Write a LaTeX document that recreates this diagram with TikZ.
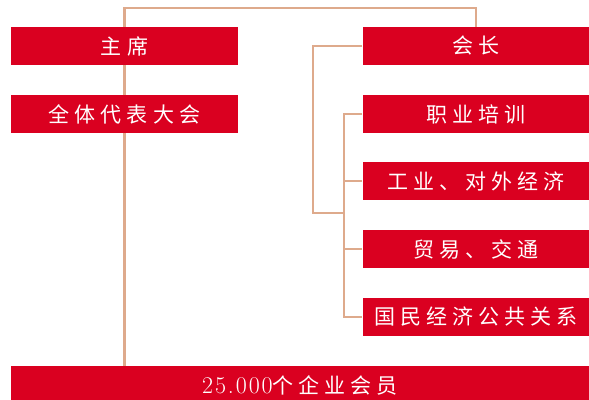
\documentclass[tikz,border=0pt]{standalone}
\usepackage{fontspec}
\newfontfamily\cjk{Noto Sans CJK SC}[LetterSpace=24]
\newfontfamily\digits{Latin Modern Roman}[LetterSpace=8]
\usetikzlibrary{positioning, backgrounds}
\definecolor{boxRed}{RGB}{218,0,32}
\definecolor{lineTan}{RGB}{222,170,140}
\tikzstyle{redNode} = [rectangle, minimum width=227pt, minimum height=38pt, inner sep=0pt, text centered, fill=boxRed, text=white, font=\fontsize{21}{24}\selectfont\cjk]
\tikzstyle{wideNode} = [redNode, minimum width=578pt]
\tikzstyle{link} = [line width=2.2pt, draw=lineTan]

\begin{document}
\begin{tikzpicture}[x=1pt, y=1pt, node distance=68pt]
        \useasboundingbox (0,0) rectangle (589,399);
        \node (chair) [redNode] at (124.5,353) {主席};
        \node (assembly) [redNode, below of=chair] {全体代表大会};
        \node (president) [redNode, right of=chair, xshift=283.5pt] {会长};
        \node (training) [redNode, below of=president] {职业培训};
        \node (industry) [redNode, below of=training, yshift=1pt] {工业、对外经济};
        \node (trade) [redNode, below of=industry] {贸易、交通};
        \node (public) [redNode, below of=trade] {国民经济公共关系};
        \node (members) [wideNode, below of=public, xshift=-176pt] {{\fontsize{24}{24}\selectfont\digits 25.000}个企业会员};
        \coordinate (top) at (124.5,391);
        \coordinate (split) at (345,186);

        \begin{pgfonlayer}{background}
        \draw [link] (members.north -| top) -- (top) -| (president.north);
        \draw [link] (president.west) -- ++(-49pt,0) |- (split);
        \draw [link] (training.west) -- ++(-18pt,0) |- (public.west);
        \foreach \n in {industry, trade}
            \draw [link] (\n.west) -- ++(-18pt,0);
        \end{pgfonlayer}
    \end{tikzpicture}
\end{document}
